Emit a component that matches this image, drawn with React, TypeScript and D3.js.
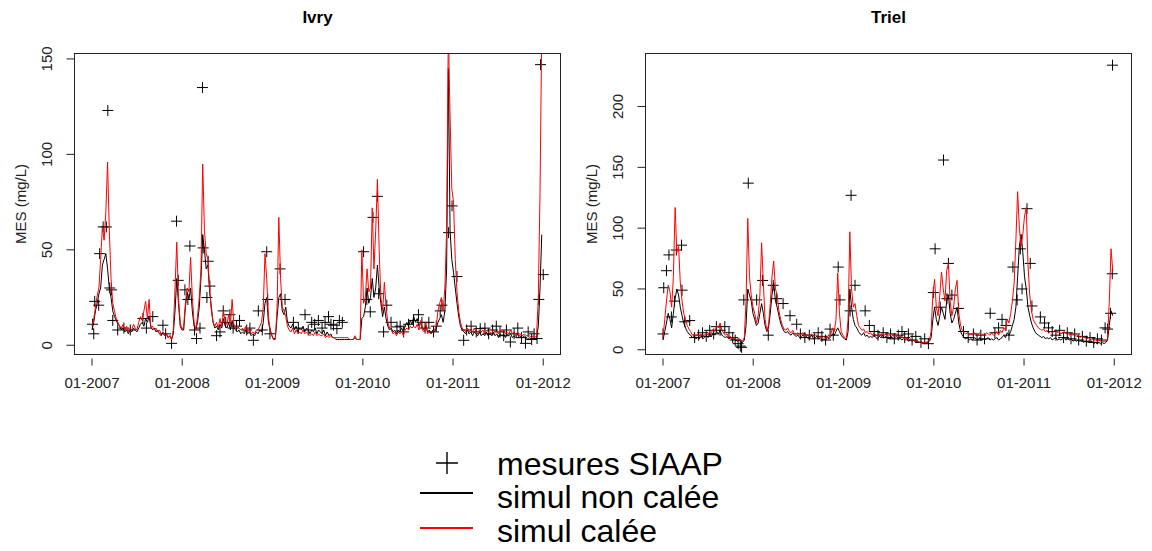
import React from "react";
import * as d3 from "d3";

const FONT = "'Liberation Sans', Arial, Helvetica, sans-serif";

// ---- shared time settings ----
const simStart = "2007-01-01";
const simStepDays = 7;
const xDataRange = ["2007-01-03", "2011-12-29"];
const xTickDates = ["2007-01-01", "2008-01-01", "2009-01-01", "2010-01-01", "2011-01-01", "2012-01-01"];

// ---- Ivry ----
const ivryYRange = [1, 147];
const ivryYTicks = [0, 50, 100, 150];
const ivryNonCalee = [
  8,12,18,22,27,30,42,45,48,40,30,25,18,15,13,11,10,8,9,7,8,6,8,7,9,8,7,9,11,12,10,14,12,15,10,8,9,7,8,6,5,7,5,6,4,5,3,6,18,35,22,10,8,
  8,20,28,24,30,18,10,8,12,20,35,58,50,40,42,28,20,12,9,10,8,11,9,14,10,9,12,8,13,9,8,7,8,6,7,6,8,6,7,5,6,5,7,6,8,7,12,22,25,12,8,5,
  3,4,15,25,27,18,16,20,12,10,9,11,8,10,7,9,8,10,7,9,8,6,8,7,9,6,8,7,6,8,5,7,5,6,4,4,3,3,3,3,3,3,3,3,3,3,3,4,3,3,3,14,
  15,20,30,22,25,35,25,30,42,30,22,15,20,14,10,8,9,7,8,6,8,7,9,7,10,12,10,13,11,15,12,14,10,12,9,8,10,7,8,6,8,7,9,12,14,16,12,18,40,145,60,45,
  38,30,22,15,10,8,7,6,8,6,7,5,7,6,5,7,5,6,5,7,5,6,5,7,5,6,4,6,5,6,4,6,5,6,4,5,4,6,4,5,4,5,4,3,4,3,4,3,4,10,30,58,
];
const ivryCalee = [
  10,14,20,26,30,45,62,55,70,96,60,35,22,18,14,12,10,9,11,8,10,7,9,8,11,9,8,12,15,13,18,23,14,24,9,10,8,9,7,8,6,7,5,6,4,5,3,8,30,54,25,12,8,
  10,22,30,28,46,25,12,8,15,25,40,95,60,48,45,30,18,12,10,12,9,14,10,18,12,11,16,10,24,11,9,10,9,8,9,7,10,7,8,6,7,6,8,8,10,12,20,48,35,15,8,5,
  3,3,20,67,35,20,18,15,10,8,7,9,6,8,6,7,6,8,6,7,6,5,6,5,7,5,6,5,5,6,4,5,4,5,4,4,4,4,4,4,4,4,4,4,3,3,3,5,3,3,3,50,
  22,25,40,28,30,72,40,60,87,50,25,18,33,20,12,9,8,6,7,5,7,6,7,5,8,9,8,10,9,10,9,11,8,13,8,7,12,6,7,6,7,8,10,18,22,25,18,30,60,165,120,82,
  75,45,28,18,12,9,8,7,9,7,8,7,9,7,6,8,7,8,6,8,7,7,6,8,7,7,6,8,7,8,6,7,6,8,6,7,5,7,5,6,5,6,5,5,5,4,5,4,5,25,80,165,
];
const ivryMesDates = [
  "2007-01-03","2007-01-08","2007-01-12","2007-01-28","2007-02-01","2007-02-15","2007-02-28","2007-03-06","2007-03-14","2007-03-21","2007-03-26","2007-04-15","2007-05-10","2007-06-05","2007-07-26","2007-08-09","2007-09-04","2007-10-15","2007-10-26","2007-11-19","2007-12-09","2007-12-16",
  "2008-01-12","2008-01-24","2008-02-01","2008-02-20","2008-02-28","2008-03-13","2008-03-23","2008-03-26","2008-04-10","2008-04-15","2008-04-22","2008-05-19","2008-06-02","2008-06-15","2008-06-25","2008-07-12","2008-07-25","2008-08-08","2008-08-20","2008-09-18","2008-10-01","2008-10-15","2008-11-04","2008-11-20","2008-12-08","2008-12-12","2008-12-21",
  "2009-01-31","2009-02-20","2009-03-26","2009-04-15","2009-05-12","2009-05-25","2009-06-08","2009-06-20","2009-07-05","2009-07-20","2009-08-01","2009-08-15","2009-08-25","2009-09-04","2009-09-18","2009-09-28","2009-10-10",
  "2010-01-04","2010-01-17","2010-01-31","2010-02-11","2010-03-01","2010-03-06","2010-03-26","2010-04-08","2010-04-25","2010-05-19","2010-06-01","2010-06-15","2010-07-05","2010-07-25","2010-08-14","2010-08-28","2010-09-10","2010-09-25","2010-10-14","2010-10-25","2010-11-10","2010-11-17","2010-12-14","2010-12-28",
  "2011-01-17","2011-02-13","2011-02-25","2011-03-15","2011-04-05","2011-04-21","2011-05-10","2011-05-25","2011-06-10","2011-06-25","2011-07-10","2011-07-25","2011-08-05","2011-08-21","2011-09-05","2011-09-20","2011-10-05","2011-10-21","2011-11-01","2011-11-15","2011-11-25","2011-12-07","2011-12-14","2011-12-21","2012-01-01",
];
const ivryMesValues = [
  11,6,23,21,48,62,62,123,30,29,13,8,9,8,14,9,15,10.5,6,1,65,34,
  29,24,52,8,3.5,9,135,51,25,44,31,5,7,18,12,16,9,10,13,8,9,2.6,18,8,49,24,6,
  40,24,12,9,16,8,12,11,13,9,12,15,11,10.5,8.7,13,12,
  49,24,17.5,67,78,27,7,21,12,9.6,10,7,11,13,16,12,9,12,7,10,18,21,59,73,
  36,2.6,8,10,7,8.7,9,6,8,10,7,5,8,1.7,6,9,4,1,7,3,6,3.5,24,147,37,
];

// ---- Triel ----
const trielYRange = [5.27, 234.44];
const trielYTicks = [0, 50, 100, 150, 200];
const trielNonCalee = [
  8,15,22,30,25,18,30,42,50,45,35,28,22,18,15,13,12,10,11,9,10,9,11,9,10,12,10,13,11,14,12,15,13,16,12,11,10,11,9,10,8,9,8,7,8,7,6,8,20,50,45,40,30,
  25,20,22,30,38,30,20,15,18,30,45,55,40,35,28,22,18,15,14,15,13,12,14,12,11,12,10,11,12,10,11,9,10,12,9,10,11,9,10,8,9,8,10,9,11,13,12,15,18,15,12,10,
  9,8,15,50,35,25,20,18,15,13,12,14,11,12,10,11,10,12,10,9,11,10,12,10,11,9,10,11,9,10,11,9,10,8,9,8,9,7,8,7,8,6,7,6,7,5,6,5,6,7,10,25,
  35,25,20,28,35,30,25,40,45,30,22,25,30,35,22,15,12,10,9,10,8,9,8,10,9,8,10,8,9,8,9,10,8,9,8,9,10,8,9,10,12,10,14,12,15,20,25,35,60,85,95,80,
  60,50,35,28,22,18,15,13,12,11,10,11,9,10,9,10,8,9,10,8,9,8,9,10,8,9,8,9,7,8,7,8,7,8,6,7,6,7,6,7,5,6,5,6,5,6,5,6,8,20,32,28,
];
const trielCalee = [
  10,25,40,53,48,35,60,117,80,85,55,40,30,25,20,17,15,12,13,11,13,11,13,11,12,14,12,15,14,17,15,20,18,22,16,14,12,13,10,11,9,10,9,8,9,8,7,10,40,108,60,45,35,
  30,22,28,45,88,55,25,16,20,38,60,73,50,45,32,25,20,17,16,18,15,14,16,13,13,14,12,13,14,11,13,11,12,13,11,12,12,10,11,10,11,9,11,10,13,18,15,25,63,30,15,12,
  10,9,25,97,50,35,38,28,20,18,16,17,14,15,13,14,12,14,12,11,13,12,14,12,13,11,12,13,11,12,13,11,11,10,10,9,10,8,9,8,8,7,8,6,7,6,6,6,7,8,15,45,
  58,35,28,45,64,50,40,65,71,40,28,35,50,57,30,20,16,14,13,14,12,13,12,14,13,12,14,12,13,12,14,13,12,14,12,13,15,12,16,14,18,16,25,22,30,40,55,90,130,100,85,95,
  110,117,70,45,32,25,22,20,18,17,16,17,15,16,14,15,14,15,16,14,15,13,14,15,13,14,12,13,12,13,11,12,10,11,10,10,9,10,8,9,8,8,7,8,7,7,7,7,9,40,83,65,
];
const trielMesDates = [
  "2007-01-01","2007-01-04","2007-01-15","2007-01-25","2007-02-04","2007-02-17","2007-02-24","2007-03-17","2007-03-19","2007-03-30","2007-04-19","2007-05-09","2007-05-25","2007-06-10","2007-06-25","2007-07-09","2007-07-25","2007-08-05","2007-08-20","2007-09-08","2007-09-25","2007-10-10","2007-10-20","2007-11-01","2007-11-10","2007-11-15","2007-11-24","2007-12-12",
  "2008-01-15","2008-02-08","2008-03-02","2008-03-22","2008-04-05","2008-05-01","2008-05-29","2008-06-25","2008-07-10","2008-07-28","2008-08-15","2008-09-05","2008-09-20","2008-10-05","2008-10-20","2008-11-07","2008-11-20","2008-12-10","2008-12-17",
  "2009-01-27","2009-01-31","2009-02-16","2009-03-29","2009-04-15","2009-05-05","2009-05-20","2009-06-10","2009-06-25","2009-07-10","2009-07-25","2009-08-10","2009-08-25","2009-09-05","2009-09-20","2009-10-05","2009-10-20","2009-11-10","2009-11-25","2009-12-10","2009-12-30",
  "2010-01-06","2010-01-27","2010-02-09","2010-02-23","2010-03-01","2010-03-15","2010-04-11","2010-05-01","2010-05-20","2010-06-10","2010-06-25","2010-07-10","2010-07-25","2010-08-17","2010-09-05","2010-09-20","2010-10-04","2010-10-20","2010-11-01","2010-11-17","2010-12-04","2010-12-17","2010-12-24",
  "2011-01-13","2011-01-26","2011-02-02","2011-03-08","2011-03-25","2011-04-10","2011-04-25","2011-05-10","2011-05-25","2011-06-10","2011-06-25","2011-07-10","2011-07-25","2011-08-10","2011-08-25","2011-09-10","2011-09-25","2011-10-10","2011-10-25","2011-11-10","2011-11-25","2011-12-05","2011-12-17","2011-12-24","2011-12-25",
];
const trielMesValues = [
  13,51,65,78,27,40,82,86,49,23,24,10,12,14,11,16,13,19,16,19,14,10,8,5,3,2,41,137,
  41,57,12,53,42,38,28,21,13,10,12,9,14,11,8,17,12,68,41,
  32,127,53,32,20,15,12,14,10,13,9,12,15,10,13,8,11,6,9,5,47,
  83,35,156,42,71,45,34,15,10,13,8,12,9,30,14,18,25,20,12,68,41,83,50,
  116,71,36,27,22,18,15,12,16,10,14,9,13,8,11,7,10,6,9,8,18,17,30,62.5,234,
];

// ---- legend ----
const legendLabels = ["mesures SIAAP", "simul non calée", "simul calée"];
const seriesColors = { mesures: "#000000", nonCalee: "#000000", calee: "#ff0000" };

const parseDate = d3.utcParse("%Y-%m-%d");
const fmtTick = d3.utcFormat("%m-%Y");

type Box = { left: number; right: number; top: number; bottom: number };

function Panel(props: {
  id: string;
  title: string;
  box: Box;
  yRange: number[];
  yTicks: number[];
  nonCalee: number[];
  calee: number[];
  mesDates: string[];
  mesValues: number[];
}) {
  const { id, title, box, yRange, yTicks, nonCalee, calee, mesDates, mesValues } = props;
  const d0 = parseDate(xDataRange[0])!.getTime();
  const d1 = parseDate(xDataRange[1])!.getTime();
  const xp = (d1 - d0) * 0.04;
  const x = d3.scaleUtc().domain([new Date(d0 - xp), new Date(d1 + xp)]).range([box.left, box.right]);
  const yp = (yRange[1] - yRange[0]) * 0.04;
  const y = d3.scaleLinear().domain([yRange[0] - yp, yRange[1] + yp]).range([box.bottom, box.top]);
  const start = parseDate(simStart)!;
  const dateAt = (i: number) => d3.utcDay.offset(start, i * simStepDays);
  const line = d3
    .line<number>()
    .x((_, i) => x(dateAt(i)))
    .y((d) => y(d));
  const cx = (box.left + box.right) / 2;
  const cy = (box.top + box.bottom) / 2;
  const s = 5.5;
  return (
    <g>
      <defs>
        <clipPath id={`clip-${id}`}>
          <rect x={box.left} y={box.top} width={box.right - box.left} height={box.bottom - box.top} />
        </clipPath>
      </defs>
      <text x={cx} y={23} textAnchor="middle" fontFamily={FONT} fontWeight="bold" fontSize={17} fill="#000">
        {title}
      </text>
      <g clipPath={`url(#clip-${id})`}>
        {mesDates.map((d, i) => {
          const px = x(parseDate(d)!);
          const py = y(mesValues[i]);
          return (
            <path
              key={i}
              d={`M${px - s},${py}H${px + s}M${px},${py - s}V${py + s}`}
              stroke={seriesColors.mesures}
              strokeWidth={1}
              fill="none"
            />
          );
        })}
        <path d={line(nonCalee) || ""} fill="none" stroke={seriesColors.nonCalee} strokeWidth={1} strokeLinejoin="round" />
        <path d={line(calee) || ""} fill="none" stroke={seriesColors.calee} strokeWidth={1} strokeLinejoin="round" />
      </g>
      <rect
        x={box.left}
        y={box.top}
        width={box.right - box.left}
        height={box.bottom - box.top}
        fill="none"
        stroke="#222"
        strokeWidth={1}
      />
      {yTicks.map((t) => (
        <g key={t}>
          <line x1={box.left - 8} x2={box.left} y1={y(t)} y2={y(t)} stroke="#222" strokeWidth={1} />
          <text
            transform={`translate(${box.left - 23},${y(t)}) rotate(-90)`}
            textAnchor="middle"
            fontFamily={FONT}
            fontSize={15}
            fill="#222"
          >
            {t}
          </text>
        </g>
      ))}
      {xTickDates.map((d) => {
        const px = x(parseDate(d)!);
        return (
          <g key={d}>
            <line x1={px} x2={px} y1={box.bottom + 4} y2={box.bottom + 11} stroke="#222" strokeWidth={1} />
            <text x={px} y={388} textAnchor="middle" fontFamily={FONT} fontSize={15} fill="#222">
              {fmtTick(parseDate(d)!)}
            </text>
          </g>
        );
      })}
      <text
        transform={`translate(${box.left - 49},${cy}) rotate(-90)`}
        textAnchor="middle"
        fontFamily={FONT}
        fontSize={15}
        fill="#222"
      >
        MES (mg/L)
      </text>
    </g>
  );
}

function Legend() {
  const rows = [475, 508, 542];
  return (
    <g fontFamily={FONT} fontSize={32} fill="#000">
      <path d="M436,463H458M447,452V474" stroke={seriesColors.mesures} strokeWidth={1.4} fill="none" />
      <line x1={420} x2={473} y1={493} y2={493} stroke={seriesColors.nonCalee} strokeWidth={2} />
      <line x1={420} x2={473} y1={528} y2={528} stroke={seriesColors.calee} strokeWidth={2} />
      {legendLabels.map((l, i) => (
        <text key={l} x={497} y={rows[i]}>
          {l}
        </text>
      ))}
    </g>
  );
}

export default function App() {
  return (
    <svg
      width={1152}
      height={551}
      style={{ position: "absolute", left: 0, top: 0, background: "#fff" }}
    >
      <rect x={0} y={0} width={1152} height={551} fill="#fff" />
      <Panel
        id="ivry"
        title="Ivry"
        box={{ left: 74.5, right: 560.5, top: 53.5, bottom: 354.5 }}
        yRange={ivryYRange}
        yTicks={ivryYTicks}
        nonCalee={ivryNonCalee}
        calee={ivryCalee}
        mesDates={ivryMesDates}
        mesValues={ivryMesValues}
      />
      <Panel
        id="triel"
        title="Triel"
        box={{ left: 645.5, right: 1131.5, top: 53.5, bottom: 354.5 }}
        yRange={trielYRange}
        yTicks={trielYTicks}
        nonCalee={trielNonCalee}
        calee={trielCalee}
        mesDates={trielMesDates}
        mesValues={trielMesValues}
      />
      <Legend />
    </svg>
  );
}
